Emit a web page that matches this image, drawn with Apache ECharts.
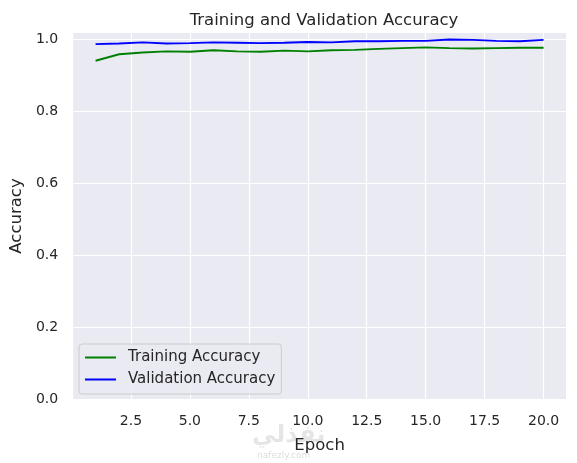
<!DOCTYPE html>
<html>
<head>
<meta charset="utf-8">
<script src="https://cdn.jsdelivr.net/npm/echarts@6/dist/echarts.min.js"></script>
<style>
html, body { margin: 0; padding: 0; background: #fff; }
#main { width: 577px; height: 463px; }
</style>
</head>
<body>
<div id="main"></div>
<script>
// 训练曲线 - accuracy per epoch
var epochs = [1, 2, 3, 4, 5, 6, 7, 8, 9, 10, 11, 12, 13, 14, 15, 16, 17, 18, 19, 20];
var trainAcc = [0.940, 0.958, 0.963, 0.966, 0.965, 0.969, 0.966, 0.965, 0.968, 0.966,
	0.969, 0.970, 0.973, 0.975, 0.977, 0.975, 0.974, 0.975, 0.976, 0.976];
var valAcc = [0.986, 0.988, 0.991, 0.988, 0.989, 0.991, 0.990, 0.989, 0.990, 0.992,
	0.991, 0.994, 0.994, 0.995, 0.995, 0.999, 0.998, 0.995, 0.994, 0.998];
var xTicks = [2.5, 5, 7.5, 10, 12.5, 15, 17.5, 20];
var yTicks = [0, 0.2, 0.4, 0.6, 0.8, 1.0];

var FONT = 'DejaVu Sans';
var TXT = '#262626';

function pairs(xs, ys) {
	return xs.map(function(x, i) {
		return [x, ys[i]];
	});
}
function fmt(v) {
	return Number(v).toFixed(1);
}

var chart = echarts.init(document.getElementById('main'), null, { renderer: 'canvas' });

var option = {
	animation : false,
	textStyle : { fontFamily : FONT },
	title : {
		text : 'Training and Validation Accuracy',
		left : 319,
		top : 7,
		textAlign : 'center',
		textStyle : { fontFamily : FONT, fontSize : 16.5, fontWeight : 'normal', color : TXT }
	},
	grid : {
		left : 72,
		right : 11,
		top : 33,
		bottom : 64,
		show : true,
		backgroundColor : '#EAEAF2',
		borderWidth : 0
	},
	legend : {
		orient : 'vertical',
		left : 79,
		top : 344,
		padding : [6, 6, 7, 5],
		itemWidth : 31,
		itemHeight : 14,
		itemGap : 7,
		backgroundColor : 'rgba(234,234,242,0.8)',
		borderColor : '#cccccc',
		borderWidth : 1,
		borderRadius : 3,
		itemStyle : { opacity : 0 },
		textStyle : { fontFamily : FONT, fontSize : 15, color : TXT, padding : [0, 0, 0, 7] },
		data : ['Training Accuracy', 'Validation Accuracy']
	},
	xAxis : {
		type : 'value',
		min : 0.05,
		max : 20.95,
		name : 'Epoch',
		nameLocation : 'middle',
		nameGap : 38,
		nameTextStyle : { fontFamily : FONT, fontSize : 16.5, color : TXT },
		axisLine : { show : false },
		axisTick : { show : false, customValues : xTicks },
		axisLabel : {
			customValues : xTicks,
			formatter : fmt,
			margin : 15,
			fontFamily : FONT,
			fontSize : 14,
			color : TXT
		},
		splitLine : { show : true, lineStyle : { color : '#ffffff', width : 1.2 } }
	},
	yAxis : {
		type : 'value',
		min : 0,
		max : 1.017,
		name : 'Accuracy',
		nameLocation : 'middle',
		nameGap : 42,
		nameTextStyle : { fontFamily : FONT, fontSize : 16.5, color : TXT },
		axisLine : { show : false },
		axisTick : { show : false, customValues : yTicks },
		axisLabel : {
			customValues : yTicks,
			formatter : fmt,
			margin : 15,
			fontFamily : FONT,
			fontSize : 14,
			color : TXT
		},
		splitLine : { show : true, lineStyle : { color : '#ffffff', width : 1.2 } }
	},
	graphic : [
		{
			type : 'text',
			left : 252,
			top : 424,
			silent : true,
			style : { text : 'نفذلي', font : 'bold 24px "DejaVu Sans"', fill : 'rgba(0,0,0,0.10)' }
		},
		{
			type : 'text',
			left : 257,
			top : 451,
			silent : true,
			style : { text : 'nafezly.com', font : '9px "DejaVu Sans"', fill : 'rgba(0,0,0,0.15)' }
		}
	],
	series : [
		{
			name : 'Training Accuracy',
			type : 'line',
			symbol : 'none',
			data : pairs(epochs, trainAcc),
			lineStyle : { color : '#008000', width : 1.9 },
			itemStyle : { color : '#008000' }
		},
		{
			name : 'Validation Accuracy',
			type : 'line',
			symbol : 'none',
			data : pairs(epochs, valAcc),
			lineStyle : { color : '#0000ff', width : 1.9 },
			itemStyle : { color : '#0000ff' }
		}
	]
};

chart.setOption(option);
</script>
</body>
</html>
